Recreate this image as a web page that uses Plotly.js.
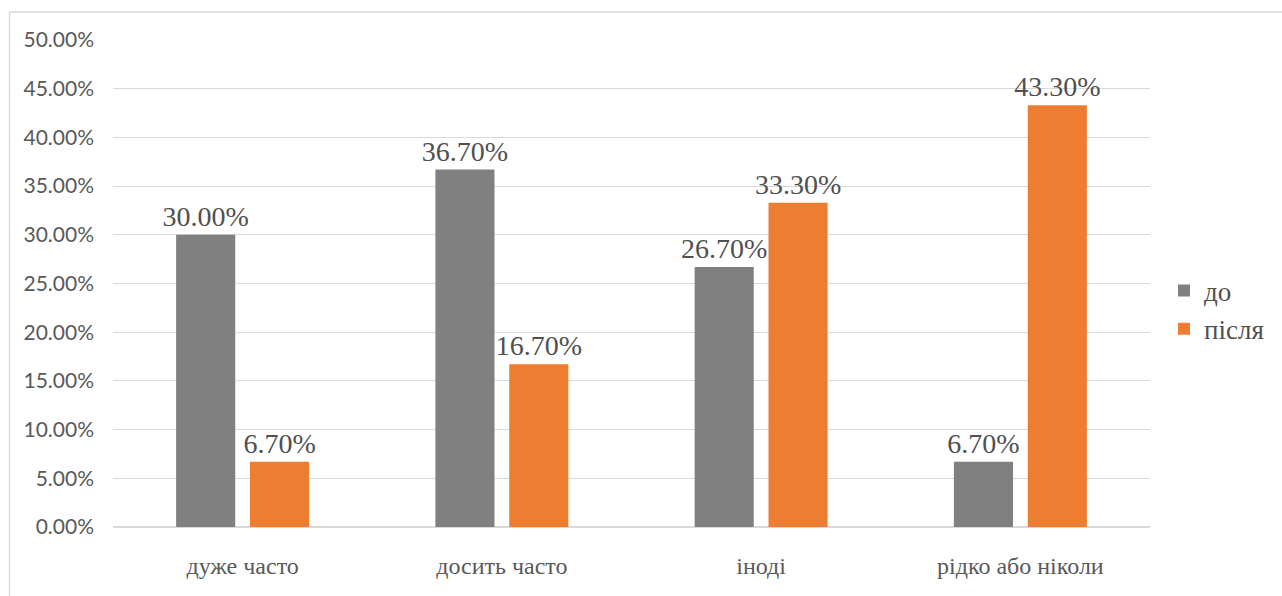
<!DOCTYPE html>
<html>
<head>
<meta charset="utf-8">
<script src="https://cdn.plot.ly/plotly-3.0.1.min.js"></script>
</head>
<body style="margin:0;background:#fff">
<div id="chart" style="width:1282px;height:596px"></div>
<script>
const categories = ["дуже часто", "досить часто", "іноді", "рідко або ніколи"];
const seriesNames = ["до", "після"];
const before = [0.300, 0.367, 0.267, 0.067];
const after = [0.067, 0.167, 0.333, 0.433];
const tickVals = [0, 0.05, 0.10, 0.15, 0.20, 0.25, 0.30, 0.35, 0.40, 0.45, 0.50];
const tickText = ["0.00%", "5.00%", "10.00%", "15.00%", "20.00%", "25.00%", "30.00%", "35.00%", "40.00%", "45.00%", "50.00%"];

const fmt = v => (v * 100).toFixed(2) + "%";
const SERIF = "Liberation Serif";

const traces = [
  {type: "bar", name: seriesNames[0], x: categories, y: before, marker: {color: "#808080"},
   text: before.map(fmt), textposition: "outside", constraintext: "none",
   textfont: {family: SERIF, size: 28}, cliponaxis: false},
  {type: "bar", name: seriesNames[1], x: categories, y: after, marker: {color: "#ED7D31"},
   text: after.map(fmt), textposition: "outside", constraintext: "none",
   textfont: {family: SERIF, size: 28}, cliponaxis: false}
];

const L = 113, R = 1150, T = 40, B = 527, W = 1282, H = 596;
const pw = R - L, ph = B - T;

const layout = {
  width: W, height: H,
  margin: {l: L, r: W - R, t: T, b: H - B, pad: 0},
  paper_bgcolor: "#ffffff", plot_bgcolor: "#ffffff",
  font: {family: SERIF, color: "#505050"},
  barmode: "group", bargap: 0.43, bargroupgap: 0.2,
  showlegend: true,
  legend: {x: (1164 - L) / pw, xanchor: "left", y: (B - 310) / ph, yanchor: "middle",
           font: {family: SERIF, size: 27}},
  xaxis: {showgrid: false, showline: false, zeroline: false, ticks: "", fixedrange: true,
          tickfont: {family: SERIF, size: 24, color: "#595959"},
          ticklabelstandoff: 22},
  yaxis: {range: [0, 0.5], tickvals: tickVals, ticktext: tickText, showgrid: true,
          gridcolor: "#d9d9d9", gridwidth: 1, zeroline: true, zerolinecolor: "#d9d9d9", zerolinewidth: 2,
          showline: false, ticks: "", fixedrange: true, ticklabelstandoff: 18,
          tickfont: {family: "Lato, Liberation Sans", size: 21, color: "#595959"}},
  shapes: [
    {type: "line", xref: "paper", yref: "paper", x0: (9.5 - L) / pw, x1: (9.5 - L) / pw, y0: (B - 12) / ph, y1: (B - 600) / ph,
     line: {color: "#d9d9d9", width: 1.5}},
    {type: "line", xref: "paper", yref: "paper", x0: (9.5 - L) / pw, x1: (1290 - L) / pw, y0: (B - 12) / ph, y1: (B - 12) / ph,
     line: {color: "#d9d9d9", width: 1.5}}
  ]
};

Plotly.newPlot("chart", traces, layout, {displayModeBar: false, staticPlot: true});
</script>
</body>
</html>
